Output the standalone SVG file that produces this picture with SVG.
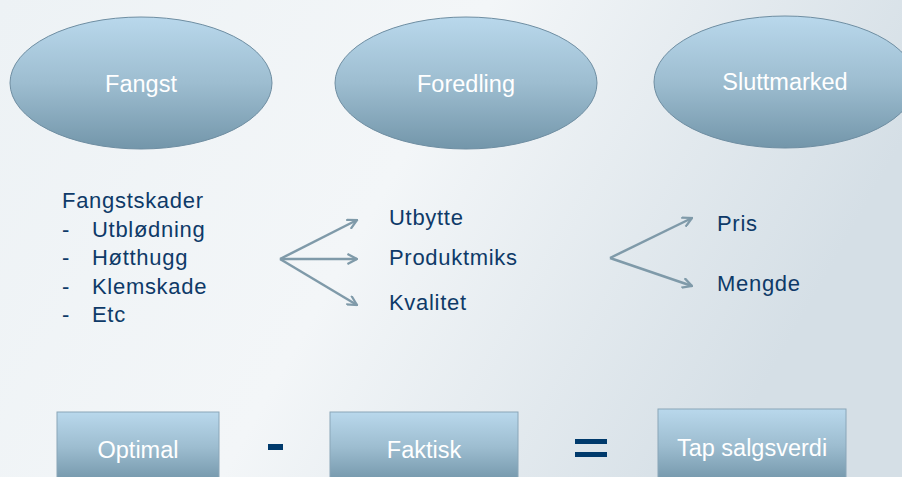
<svg xmlns="http://www.w3.org/2000/svg" width="902" height="477" viewBox="0 0 902 477">
<defs>
<linearGradient id="bg" x1="0" y1="0" x2="1" y2="0.3">
<stop offset="0" stop-color="#edf2f5"/>
<stop offset="0.5" stop-color="#f3f6f8"/>
<stop offset="1" stop-color="#d5dfe6"/>
</linearGradient>
<linearGradient id="shape" x1="0" y1="0" x2="0" y2="1">
<stop offset="0" stop-color="#b9d8ec"/>
<stop offset="0.5" stop-color="#9dbdd0"/>
<stop offset="1" stop-color="#7396aa"/>
</linearGradient>
<marker id="ah" viewBox="0 0 10 10" refX="9" refY="5" markerWidth="4.5" markerHeight="4.5" orient="auto" markerUnits="strokeWidth">
<path d="M0.5,0.5 L9,5 L0.5,9.5" fill="none" stroke="#7f9aa9" stroke-width="2"/>
</marker>
</defs>
<style>
.node{fill:url(#shape);stroke:#6f8ea2;stroke-width:1}
.box{fill:url(#shape);stroke:#8aa6b8;stroke-width:1}
.lbl{font-family:"Liberation Sans",Arial,sans-serif;font-size:23.5px;fill:#ffffff;text-anchor:middle}
.txt{font-family:"Liberation Sans",Arial,sans-serif;font-size:22px;letter-spacing:0.7px;fill:#0e3a68}
.arr{stroke:#7f9aa9;stroke-width:2.5;fill:none;marker-end:url(#ah)}
.op{fill:#003a6c}
</style>
<rect width="902" height="477" fill="url(#bg)"/>
<g id="fangst">
<ellipse class="node" cx="141" cy="83" rx="131" ry="66"/>
<text class="lbl" x="141" y="92">Fangst</text>
</g>
<g id="foredling">
<ellipse class="node" cx="466" cy="83" rx="131" ry="66"/>
<text class="lbl" x="466" y="92">Foredling</text>
</g>
<g id="sluttmarked">
<ellipse class="node" cx="785" cy="82" rx="131" ry="66"/>
<text class="lbl" x="785" y="90">Sluttmarked</text>
</g>
<g id="fangstskader">
<text class="txt" x="62" y="208">Fangstskader</text>
<text class="txt" x="62" y="237">-</text><text class="txt" x="92" y="237">Utblødning</text>
<text class="txt" x="62" y="265">-</text><text class="txt" x="92" y="265">Høtthugg</text>
<text class="txt" x="62" y="294">-</text><text class="txt" x="92" y="294">Klemskade</text>
<text class="txt" x="62" y="322">-</text><text class="txt" x="92" y="322">Etc</text>
</g>
<g id="foredling-items">
<text class="txt" x="389" y="225">Utbytte</text>
<text class="txt" x="389" y="265">Produktmiks</text>
<text class="txt" x="389" y="310">Kvalitet</text>
</g>
<g id="marked-items">
<text class="txt" x="717" y="231">Pris</text>
<text class="txt" x="717" y="291">Mengde</text>
</g>
<g id="connectors">
<path class="arr" d="M280,259 L357,220"/>
<path class="arr" d="M280,259 L357,259"/>
<path class="arr" d="M280,259 L357,305"/>
<path class="arr" d="M610,258 L692,218"/>
<path class="arr" d="M610,258 L692,286"/>
</g>
<g id="optimal">
<rect class="box" x="57" y="412" width="162" height="70"/>
<text class="lbl" x="138" y="458">Optimal</text>
</g>
<g id="minus">
<rect class="op" x="268" y="444" width="15" height="6"/>
</g>
<g id="faktisk">
<rect class="box" x="330" y="412" width="188" height="70"/>
<text class="lbl" x="424" y="458">Faktisk</text>
</g>
<g id="equals">
<rect class="op" x="575" y="439" width="32" height="5"/>
<rect class="op" x="575" y="452" width="32" height="5"/>
</g>
<g id="tap">
<rect class="box" x="658" y="409" width="188" height="73"/>
<text class="lbl" x="752" y="456">Tap salgsverdi</text>
</g>
</svg>
